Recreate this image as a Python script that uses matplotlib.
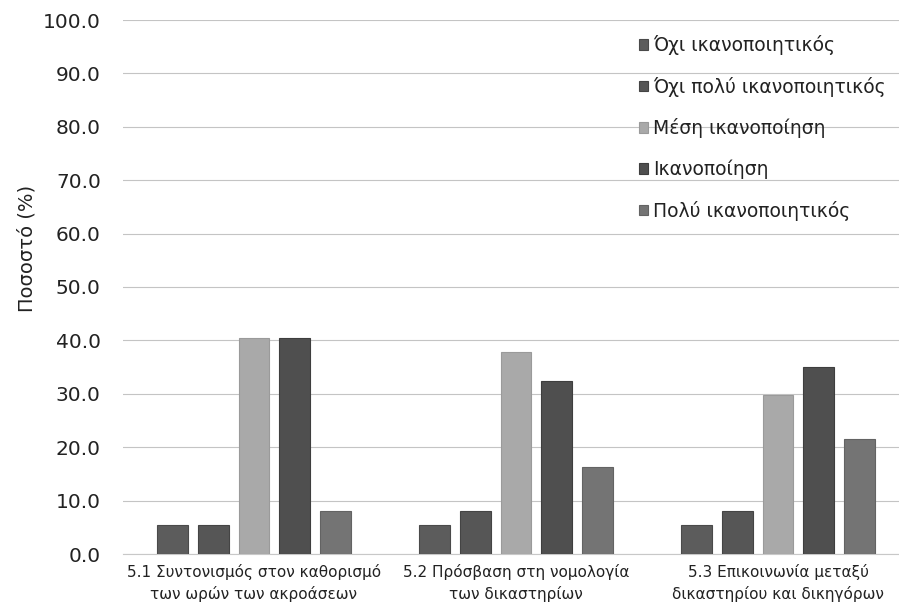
import matplotlib
matplotlib.use("Agg")
import matplotlib.pyplot as plt
import numpy as np

plt.rcParams['font.family'] = ['DejaVu Sans']

categories = [
    "5.1 Συντονισμός στον καθορισμό\nτων ωρών των ακροάσεων",
    "5.2 Πρόσβαση στη νομολογία\nτων δικαστηρίων",
    "5.3 Επικοινωνία μεταξύ\nδικαστηρίου και δικηγόρων",
]
series_names = [
    "Όχι ικανοποιητικός",
    "Όχι πολύ ικανοποιητικός",
    "Μέση ικανοποίηση",
    "Ικανοποίηση",
    "Πολύ ικανοποιητικός",
]
not_satisfactory = [5.4, 5.4, 5.4]
not_very_satisfactory = [5.4, 8.1, 8.1]
average = [40.5, 37.8, 29.7]
satisfied = [40.5, 32.4, 35.1]
very_satisfactory = [8.1, 16.2, 21.6]
series_values = [not_satisfactory, not_very_satisfactory, average, satisfied, very_satisfactory]
colors = ["#5c5c5c", "#565656", "#a9a9a9", "#4f4f4f", "#747474"]
edge_colors = ["#4a4a4a", "#444444", "#9a9a9a", "#3e3e3e", "#636363"]
y_ticks = np.arange(0, 101, 10)

fig = plt.figure(figsize=(8.99, 6.04), dpi=100)
ax = fig.add_axes([123 / 899, 1 - 554 / 604, 786 / 899, 534 / 604])

x = np.arange(len(categories))
step = 0.155
width = 0.118
for i, (name, vals) in enumerate(zip(series_names, series_values)):
    ax.bar(x + (i - 2) * step, vals, width, color=colors[i], edgecolor=edge_colors[i],
           linewidth=0.8, label=name, zorder=3)

ax.set_xlim(-0.5, 2.5)
ax.set_ylim(0, 100)
ax.set_yticks(y_ticks)
ax.set_yticklabels([f"{v:.1f}" for v in y_ticks], fontsize=14.5, color="#222222")
ax.set_xticks(x)
ax.set_xticklabels(categories, fontsize=11, color="#222222", linespacing=1.45)
ax.tick_params(axis='both', length=0)
ax.tick_params(axis='y', pad=16)
ax.tick_params(axis='x', pad=7.5)
ax.grid(axis='y', color="#c4c4c4", linewidth=0.8, zorder=0)
for side in ("top", "right", "left"):
    ax.spines[side].set_visible(False)
ax.spines["bottom"].set_color("#c8c8c8")
ax.spines["bottom"].set_linewidth(0.8)

ax.set_ylabel("Ποσοστό (%)", fontsize=14, color="#222222")
ax.yaxis.set_label_coords(-0.11, 0.573)

leg = ax.legend(loc="upper left", bbox_to_anchor=(639 / 899, 1 - 35 / 604),
                bbox_transform=fig.transFigure, frameon=False, fontsize=13.5,
                handlelength=0.5, handleheight=0.5, handletextpad=0.25,
                labelspacing=1.15, borderpad=0, borderaxespad=0)
for t in leg.get_texts():
    t.set_color("#222222")

fig.savefig("out.png", dpi=100)
